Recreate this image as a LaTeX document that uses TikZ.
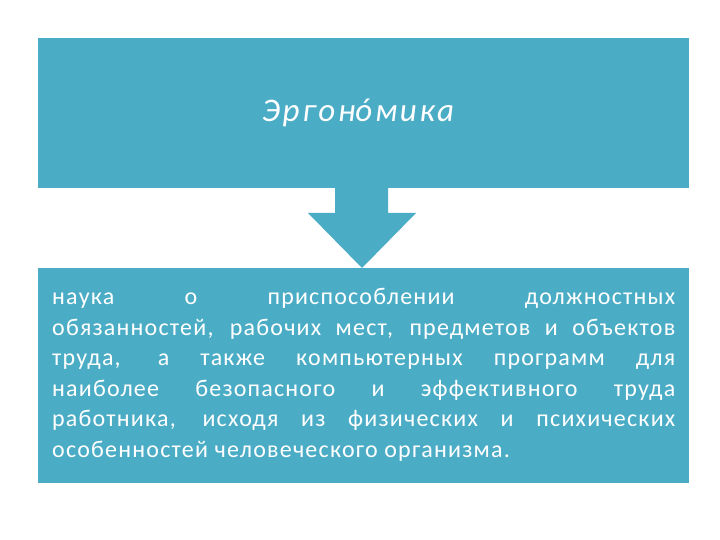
\documentclass[tikz,border=0pt]{standalone}
\usepackage{fontspec}
\setmainfont{Carlito}
\definecolor{boxc}{HTML}{4BACC6}
\begin{document}
\begin{tikzpicture}[x=1pt,y=-1pt]
\tikzset{panel/.style={fill=boxc,draw=none}}
\useasboundingbox (0,0) rectangle (720,540);
\fill[white] (0,0) rectangle (720,540);
\node[panel,minimum width=651,minimum height=150,anchor=north west,inner sep=0] (top) at (38,38) {};
\node[text=white,font=\fontsize{33}{36}\selectfont\itshape\addfontfeatures{LetterSpace=8}] (title) at (358,113) {Эргон\accent"00B4 омика};
\node[panel,minimum width=651,minimum height=215,anchor=north west,inner sep=0] (bot) at (38,268) {};
\fill[boxc] (335,188) -- (388,188) -- (388,213) -- (416,213) -- (362,268) -- (308,213) -- (335,213) -- cycle;
\node[anchor=north west,inner sep=0,text=white,text width=623,align=justify,font=\fontsize{24}{30.5}\selectfont\addfontfeatures{LetterSpace=5}] (txt) at (52,288) {наука о приспособлении должностных\linebreak обязанностей, рабочих мест, предметов и объектов\linebreak труда, а также компьютерных программ для\linebreak наиболее безопасного и эффективного труда\linebreak работника, исходя из физических и психических\linebreak особенностей человеческого организма.};
\end{tikzpicture}
\end{document}
